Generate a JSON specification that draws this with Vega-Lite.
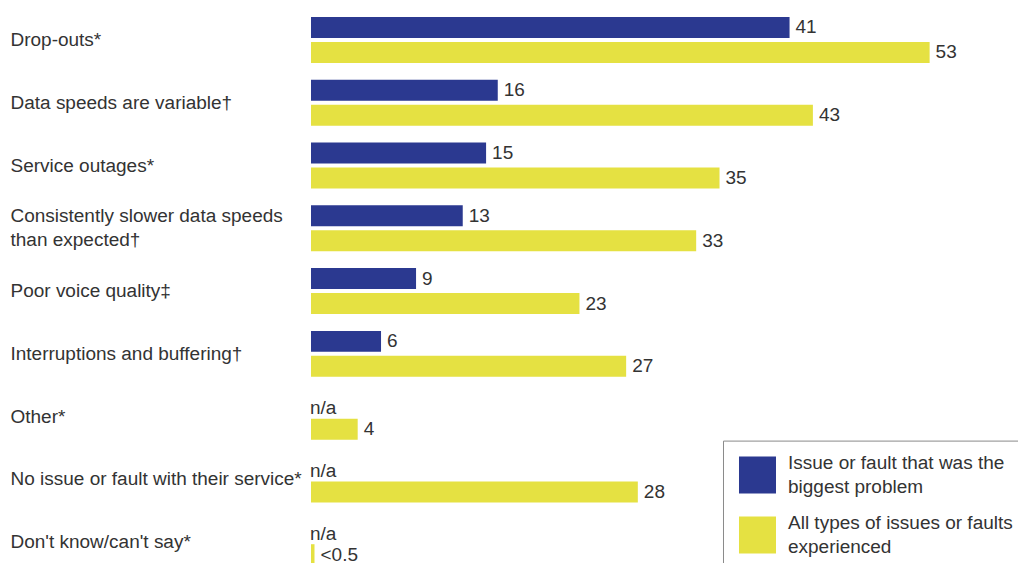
{
  "$schema": "https://vega.github.io/schema/vega-lite/v6.json",
  "width": 705,
  "height": 565,
  "autosize": "none",
  "padding": {"left": 311, "top": 8.6, "right": 2, "bottom": 0},
  "background": "white",
  "config": {
    "view": {"stroke": null},
    "font": "Liberation Sans",
    "text": {"font": "Liberation Sans", "fontSize": 19, "fill": "#333333"}
  },
  "data": {
    "values": [
      {"category": "Drop-outs*", "series": "biggest", "value": 41, "label": "41"},
      {"category": "Drop-outs*", "series": "all", "value": 53, "label": "53"},
      {"category": "Data speeds are variable†", "series": "biggest", "value": 16, "label": "16"},
      {"category": "Data speeds are variable†", "series": "all", "value": 43, "label": "43"},
      {"category": "Service outages*", "series": "biggest", "value": 15, "label": "15"},
      {"category": "Service outages*", "series": "all", "value": 35, "label": "35"},
      {"category": "Consistently slower data speeds|than expected†", "series": "biggest", "value": 13, "label": "13"},
      {"category": "Consistently slower data speeds|than expected†", "series": "all", "value": 33, "label": "33"},
      {"category": "Poor voice quality‡", "series": "biggest", "value": 9, "label": "9"},
      {"category": "Poor voice quality‡", "series": "all", "value": 23, "label": "23"},
      {"category": "Interruptions and buffering†", "series": "biggest", "value": 6, "label": "6"},
      {"category": "Interruptions and buffering†", "series": "all", "value": 27, "label": "27"},
      {"category": "Other*", "series": "biggest", "value": 0, "label": "n/a"},
      {"category": "Other*", "series": "all", "value": 4, "label": "4"},
      {"category": "No issue or fault with their service*", "series": "biggest", "value": 0, "label": "n/a"},
      {"category": "No issue or fault with their service*", "series": "all", "value": 28, "label": "28"},
      {"category": "Don't know/can't say*", "series": "biggest", "value": 0, "label": "n/a"},
      {"category": "Don't know/can't say*", "series": "all", "value": 0.3, "label": "<0.5"}
    ]
  },
  "encoding": {
    "y": {
      "field": "category",
      "type": "nominal",
      "sort": null,
      "scale": {"paddingInner": 0, "paddingOuter": 0},
      "axis": {
        "title": null,
        "domain": false,
        "ticks": false,
        "tickSize": 0,
        "labelAlign": "left",
        "labelPadding": 301,
        "labelFont": "Liberation Sans",
        "labelFontSize": 19,
        "labelColor": "#333333",
        "labelLimit": 400,
        "labelLineHeight": 24,
        "labelOffset": {"condition": {"test": "indexof(datum.value, '|') >= 0", "value": -12}, "value": 0},
        "labelExpr": "split(datum.value, '|')"
      }
    },
    "yOffset": {
      "field": "series",
      "type": "nominal",
      "scale": {"domain": ["biggest", "all"], "paddingInner": 0.16, "paddingOuter": 0.336}
    },
    "x": {
      "field": "value",
      "type": "quantitative",
      "scale": {"domain": [0, 60.4], "nice": false},
      "axis": null
    }
  },
  "layer": [
    {
      "mark": {"type": "bar"},
      "encoding": {
        "color": {
          "field": "series",
          "type": "nominal",
          "scale": {"domain": ["biggest", "all"], "range": ["#2B3990", "#E5E142"]},
          "legend": {
            "title": null,
            "orient": "none",
            "legendX": 412,
            "legendY": 432,
            "padding": 16,
            "strokeColor": "#8a8a8a",
            "fillColor": "white",
            "symbolType": "square",
            "symbolSize": 1369,
            "symbolStrokeWidth": 0,
            "symbolOpacity": 1,
            "labelFont": "Liberation Sans",
            "labelFontSize": 19,
            "labelColor": "#333333",
            "labelLimit": 400,
            "labelOffset": 12,
            "rowPadding": 16,
            "labelExpr": "datum.value == 'biggest' ? ['Issue or fault that was the', 'biggest problem'] : ['All types of issues or faults', 'experienced']",
            "encode": {"labels": {"update": {"lineHeight": {"value": 24}, "dy": {"value": -12}}}}
          }
        }
      }
    },
    {
      "transform": [{"filter": "datum.label != 'n/a'"}],
      "mark": {"type": "text", "align": "left", "baseline": "middle", "dx": 6, "dy": 0},
      "encoding": {"text": {"field": "label"}}
    },
    {
      "transform": [{"filter": "datum.label == 'n/a'"}],
      "mark": {"type": "text", "align": "left", "baseline": "middle", "dx": -1, "dy": 4},
      "encoding": {"text": {"field": "label"}}
    }
  ]
}
